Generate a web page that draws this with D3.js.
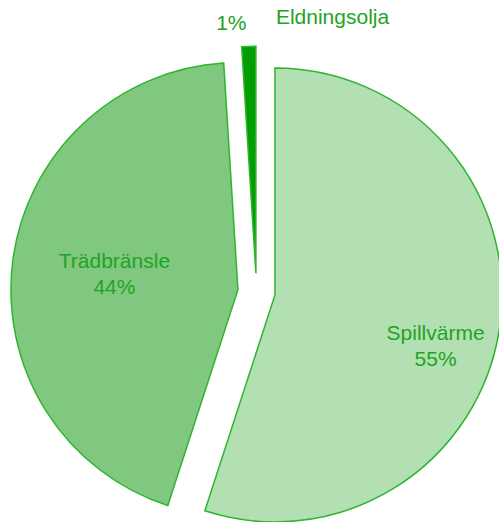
<!DOCTYPE html>
<html>
<head>
    <meta charset="utf-8">
    <script src="https://d3js.org/d3.v7.min.js"></script>
    <style>
        body { margin: 0; background: #fff; }
        text { font-family: "Liberation Sans", Arial, sans-serif; fill: #22a322; }
    </style>
</head>
<body>
    <svg width="499" height="522"></svg>
    <script>
        // Data
        const labels = ["Spillvärme", "Trädbränsle", "Eldningsolja"];
        const values = [55, 44, 1];
        const fills = ["#b3e0b3", "#80c880", "#009e00"];

        const cx = 256.5, cy = 292, radius = 227, explode = 18.7;

        const svg = d3.select("svg");
        const g = svg.append("g").attr("transform", "translate(" + cx + "," + cy + ")");

        const pie = d3.pie().sort(null).value(d => d.value);
        const arc = d3.arc().innerRadius(0).outerRadius(radius);

        const data = labels.map((l, i) => ({label: l, value: values[i], fill: fills[i]}));
        const arcs = pie(data);

        function offset(d, r) {
            const a = (d.startAngle + d.endAngle) / 2;
            return [Math.sin(a) * r, -Math.cos(a) * r];
        }

        const slice = g.selectAll(".slice")
            .data(arcs)
            .enter().append("g")
            .attr("class", "slice")
            .attr("transform", d => "translate(" + offset(d, explode) + ")");

        slice.append("path")
            .attr("d", arc)
            .style("fill", d => d.data.fill)
            .style("stroke", "#2eb52e")
            .style("stroke-width", 1.5)
            .style("stroke-linejoin", "miter");

        // inside labels (big slices)
        const insideR = [0.74, 0.55];
        slice.filter((d, i) => i < 2).each(function(d, i) {
            const a = (d.startAngle + d.endAngle) / 2 + (i === 0 ? 0.14 : 0.02);
            const r = radius * insideR[i];
            const x = Math.sin(a) * r, y = -Math.cos(a) * r;
            const t = d3.select(this).append("text")
                .attr("text-anchor", "middle")
                .style("font-size", "21px");
            t.append("tspan").attr("x", x).attr("y", y - 4).text(d.data.label);
            t.append("tspan").attr("x", x).attr("y", y + 22).text(d.data.value + "%");
        });

        // outside labels for small slice
        slice.filter((d, i) => i === 2).each(function(d) {
            const a = d.startAngle - 0.05;
            const r = radius * 1.08;
            d3.select(this).append("text")
                .attr("x", Math.sin(a) * r + 3)
                .attr("y", -Math.cos(a) * r)
                .attr("text-anchor", "middle")
                .style("font-size", "21px")
                .text(d.data.value + "%");
            d3.select(this).append("text")
                .attr("x", 20)
                .attr("y", -Math.cos(a) * r - 6)
                .attr("text-anchor", "start")
                .style("font-size", "21px")
                .text(d.data.label);
        });
    </script>
</body>
</html>
